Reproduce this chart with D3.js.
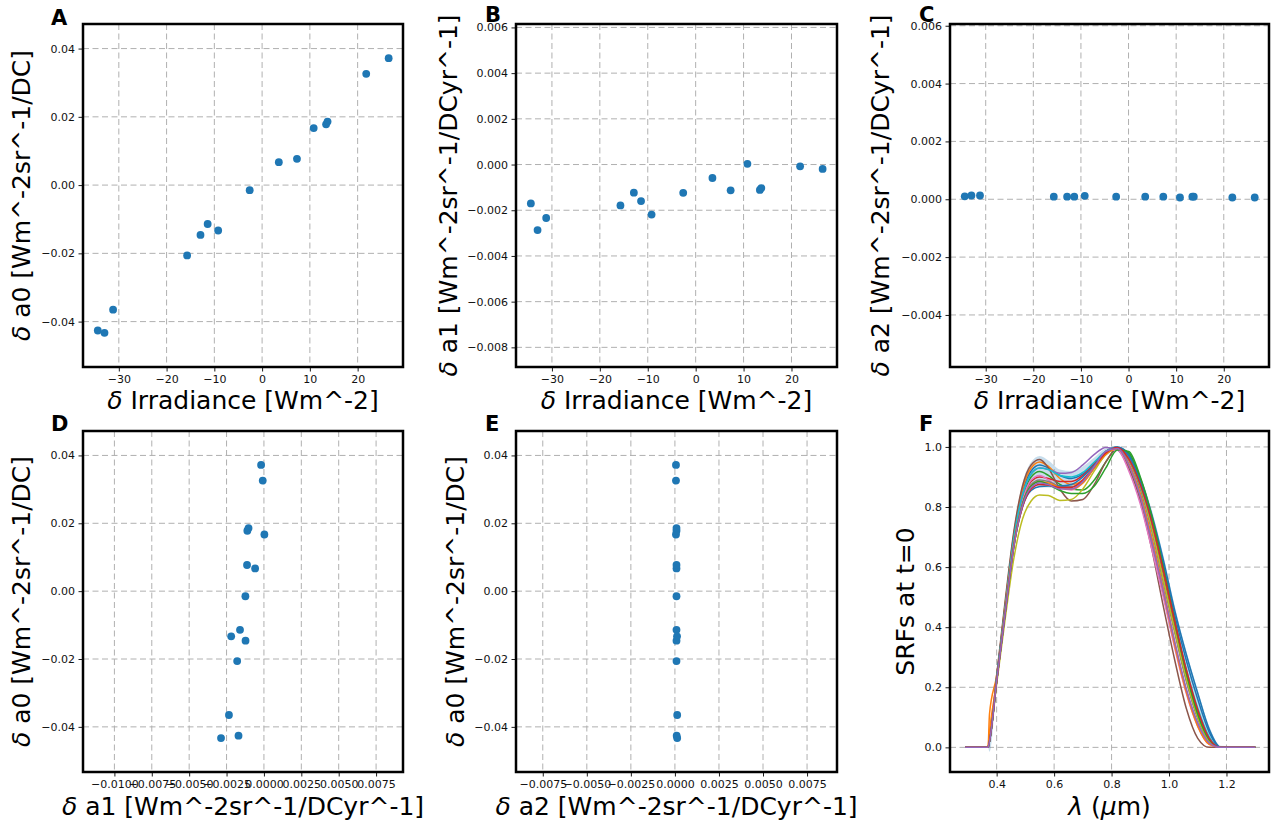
<!DOCTYPE html>
<html>
<head>
<meta charset="utf-8">
<script src="https://cdn.jsdelivr.net/npm/d3@7"></script>
<style>
body { margin: 0; background: #fff; }
svg { font-family: "DejaVu Sans", sans-serif; }
.grid line { stroke: #b0b0b0; stroke-width: 1; stroke-dasharray: 6,3.5; }
.tick text { font-family: "DejaVu Sans", sans-serif; font-size: 11px; fill: #111; }
.tick line { stroke: #000; stroke-width: 0.9; }
</style>
</head>
<body>
<svg width="1276" height="825"></svg>
<script>
// per-sensor deltas (15 sensors)
var irradiance = [-34.4, -33.0, -31.2, -15.7, -12.9, -11.4, -9.2, -2.6, 3.5, 7.3, 10.8, 13.4, 13.7, 21.8, 26.5];
var a0 = [-0.0426, -0.0433, -0.0365, -0.0206, -0.0146, -0.0114, -0.0133, -0.0015, 0.0067, 0.0077, 0.0167, 0.0178, 0.0186, 0.0326, 0.0372];
var a1 = [-0.00170, -0.00287, -0.00234, -0.00179, -0.00123, -0.00160, -0.00219, -0.00124, -0.00059, -0.00113, 0.00003, -0.00111, -0.00103, -0.00008, -0.00019];
var a2 = [0.00010, 0.00013, 0.00013, 0.00009, 0.00009, 0.00009, 0.00012, 0.00009, 0.00009, 0.00009, 0.00006, 0.00009, 0.00009, 0.00006, 0.00006];

// tick labels
var irrTicks = [-30, -20, -10, 0, 10, 20];
var a0Ticks = [-0.04, -0.02, 0, 0.02, 0.04];
var a1Ticks = [-0.008, -0.006, -0.004, -0.002, 0, 0.002, 0.004, 0.006];
var a2Ticks = [-0.004, -0.002, 0, 0.002, 0.004, 0.006];
var a1xTicks = [-0.01, -0.0075, -0.005, -0.0025, 0, 0.0025, 0.005, 0.0075];
var a2xTicks = [-0.0075, -0.005, -0.0025, 0, 0.0025, 0.005, 0.0075];
var lamTicks = [0.4, 0.6, 0.8, 1.0, 1.2];
var srfTicks = [0, 0.2, 0.4, 0.6, 0.8, 1.0];

// SRFs at t=0, sampled at these wavelengths (um)
var wavelength = [0.29, 0.37, 0.375, 0.40, 0.43, 0.46, 0.49, 0.52, 0.55, 0.58, 0.62, 0.66, 0.70, 0.74, 0.78, 0.82, 0.86, 0.90, 0.94, 0.98, 1.02, 1.06, 1.10, 1.14, 1.18, 1.30];
var srfs = [
  [0, 0, 0.02, 0.23, 0.47, 0.70, 0.85, 0.92, 0.94, 0.93, 0.905, 0.895, 0.91, 0.945, 0.985, 1.0, 0.975, 0.895, 0.775, 0.625, 0.455, 0.31, 0.18, 0.06, 0, 0],
  [0, 0, 0.11, 0.24, 0.48, 0.71, 0.86, 0.93, 0.95, 0.935, 0.895, 0.875, 0.89, 0.935, 0.98, 0.995, 0.945, 0.845, 0.70, 0.53, 0.35, 0.19, 0.075, 0.012, 0, 0],
  [0, 0, 0.02, 0.22, 0.46, 0.69, 0.83, 0.90, 0.918, 0.905, 0.875, 0.86, 0.857, 0.89, 0.95, 0.995, 0.98, 0.89, 0.75, 0.58, 0.40, 0.235, 0.10, 0.02, 0, 0],
  [0, 0, 0.02, 0.22, 0.46, 0.68, 0.82, 0.885, 0.90, 0.895, 0.885, 0.885, 0.905, 0.945, 0.985, 0.998, 0.96, 0.87, 0.74, 0.58, 0.41, 0.25, 0.12, 0.03, 0, 0],
  [0, 0, 0.02, 0.23, 0.47, 0.70, 0.84, 0.91, 0.93, 0.925, 0.912, 0.915, 0.94, 0.975, 0.998, 0.99, 0.93, 0.83, 0.68, 0.51, 0.34, 0.19, 0.08, 0.015, 0, 0],
  [0, 0, 0.02, 0.24, 0.49, 0.72, 0.87, 0.94, 0.958, 0.93, 0.86, 0.82, 0.825, 0.875, 0.95, 0.995, 0.93, 0.82, 0.66, 0.47, 0.29, 0.13, 0.03, 0, 0, 0],
  [0, 0, 0.02, 0.22, 0.46, 0.68, 0.82, 0.89, 0.905, 0.89, 0.865, 0.857, 0.88, 0.93, 0.985, 0.99, 0.92, 0.81, 0.66, 0.50, 0.33, 0.18, 0.07, 0.01, 0, 0],
  [0, 0, 0.02, 0.22, 0.46, 0.68, 0.81, 0.875, 0.89, 0.885, 0.87, 0.868, 0.885, 0.93, 0.975, 0.997, 0.955, 0.86, 0.72, 0.55, 0.38, 0.22, 0.095, 0.02, 0, 0],
  [0, 0, 0.02, 0.21, 0.43, 0.63, 0.76, 0.82, 0.84, 0.838, 0.822, 0.825, 0.86, 0.92, 0.975, 0.998, 0.96, 0.87, 0.73, 0.56, 0.39, 0.23, 0.10, 0.02, 0, 0],
  [0, 0, 0.02, 0.23, 0.47, 0.70, 0.84, 0.91, 0.93, 0.925, 0.905, 0.90, 0.915, 0.95, 0.985, 0.999, 0.965, 0.875, 0.75, 0.59, 0.42, 0.26, 0.13, 0.035, 0, 0],
  [0, 0, 0.02, 0.22, 0.45, 0.67, 0.80, 0.855, 0.868, 0.87, 0.87, 0.875, 0.90, 0.94, 0.98, 0.999, 0.97, 0.885, 0.765, 0.61, 0.44, 0.29, 0.16, 0.05, 0, 0],
  [0, 0, 0.05, 0.22, 0.46, 0.68, 0.81, 0.87, 0.885, 0.88, 0.865, 0.86, 0.88, 0.93, 0.975, 0.995, 0.94, 0.84, 0.69, 0.52, 0.34, 0.185, 0.07, 0.01, 0, 0],
  [0, 0, 0.02, 0.22, 0.45, 0.67, 0.81, 0.87, 0.885, 0.875, 0.855, 0.845, 0.845, 0.87, 0.93, 0.99, 0.985, 0.90, 0.77, 0.60, 0.42, 0.25, 0.11, 0.025, 0, 0],
  [0, 0, 0.02, 0.22, 0.45, 0.67, 0.80, 0.86, 0.875, 0.873, 0.865, 0.865, 0.89, 0.935, 0.98, 0.998, 0.96, 0.875, 0.75, 0.59, 0.42, 0.26, 0.125, 0.03, 0, 0],
  [0, 0, 0.02, 0.22, 0.45, 0.67, 0.805, 0.865, 0.88, 0.875, 0.86, 0.86, 0.885, 0.935, 0.985, 0.995, 0.94, 0.835, 0.685, 0.52, 0.35, 0.195, 0.08, 0.015, 0, 0]
];
var bandUpper = [0, 0, 0.03, 0.25, 0.50, 0.73, 0.88, 0.95, 0.97, 0.955, 0.925, 0.92, 0.935, 0.965, 0.995, 1.0, 0.985, 0.905, 0.79, 0.64, 0.47, 0.32, 0.19, 0.07, 0.005, 0];
var bandLower = [0, 0, -0.015, 0.20, 0.44, 0.66, 0.80, 0.855, 0.865, 0.865, 0.86, 0.865, 0.885, 0.925, 0.97, 0.99, 0.95, 0.855, 0.72, 0.56, 0.39, 0.23, 0.10, 0.02, 0, 0];

var tab10 = d3.schemeCategory10;
var svg = d3.select("svg");

function addLabel(g, parts, attrs) {
    var t = g.append("text").attr("font-size", 25).attr("fill", "#000");
    for (var k in attrs) t.attr(k, attrs[k]);
    parts.forEach(function (p) {
        t.append("tspan").attr("font-style", p[1] ? "italic" : "normal").text(p[0]);
    });
    return t;
}

function panel(o) {
    var x = d3.scaleLinear().domain(o.xd).range([o.x0, o.x1]);
    var y = d3.scaleLinear().domain(o.yd).range([o.y1, o.y0]);
    var g = svg.append("g");

    var grid = g.append("g").attr("class", "grid");
    grid.selectAll(".gx").data(o.xt).enter().append("line")
        .attr("x1", function (d) { return x(d); }).attr("x2", function (d) { return x(d); })
        .attr("y1", o.y0).attr("y2", o.y1);
    grid.selectAll(".gy").data(o.yt).enter().append("line")
        .attr("y1", function (d) { return y(d); }).attr("y2", function (d) { return y(d); })
        .attr("x1", o.x0).attr("x2", o.x1);

    o.draw(g, x, y);

    g.append("rect").attr("x", o.x0).attr("y", o.y0)
        .attr("width", o.x1 - o.x0).attr("height", o.y1 - o.y0)
        .attr("fill", "none").attr("stroke", "#000").attr("stroke-width", 2.5);

    var xa = g.append("g").attr("transform", "translate(0," + (o.y1 + 1) + ")")
        .call(d3.axisBottom(x).tickValues(o.xt).tickFormat(d3.format(o.xf)).tickSize(3.5).tickPadding(3.5));
    xa.select(".domain").remove();
    xa.attr("font-family", "DejaVu Sans").attr("font-size", 11);
    var ya = g.append("g").attr("transform", "translate(" + (o.x0 - 1) + ",0)")
        .call(d3.axisLeft(y).tickValues(o.yt).tickFormat(d3.format(o.yf)).tickSize(3.5).tickPadding(3.5));
    ya.select(".domain").remove();
    ya.attr("font-family", "DejaVu Sans").attr("font-size", 11);

    g.append("text").attr("x", o.lx).attr("y", o.ly)
        .attr("font-size", 21).attr("font-weight", "bold").text(o.letter);

    addLabel(g, o.xlabel, { x: (o.x0 + o.x1) / 2, y: o.xly, "text-anchor": "middle" });
    addLabel(g, o.ylabel, { "text-anchor": "middle",
        transform: "translate(" + o.ylx + "," + (o.y0 + o.y1) / 2 + ") rotate(-90)" });
}

function scatter(xs, ys) {
    return function (g, x, y) {
        g.selectAll("circle.pt").data(xs).enter().append("circle")
            .attr("class", "pt")
            .attr("cx", function (d) { return x(d); })
            .attr("cy", function (d, i) { return y(ys[i]); })
            .attr("r", 3.9)
            .attr("fill", tab10[0]);
    };
}

var irrLabel = [["δ", true], [" Irradiance [Wm^-2]", false]];
var a0Label = [["δ", true], [" a0 [Wm^-2sr^-1/DC]", false]];
var a1Label = [["δ", true], [" a1 [Wm^-2sr^-1/DCyr^-1]", false]];
var a2Label = [["δ", true], [" a2 [Wm^-2sr^-1/DCyr^-1]", false]];

var top0 = 24, top1 = 367, bot0 = 431, bot1 = 772;
var irrDom = [-37.5, 29.5], a0Dom = [-0.0533, 0.0472];

panel({ x0: 83, x1: 403, y0: top0, y1: top1, xd: irrDom, yd: a0Dom,
    xt: irrTicks, yt: a0Ticks, xf: ".0f", yf: ".2f", letter: "A", lx: 51, ly: 25,
    xlabel: irrLabel, ylabel: a0Label, xly: 409, ylx: 30, draw: scatter(irradiance, a0) });
panel({ x0: 516, x1: 837, y0: top0, y1: top1, xd: irrDom, yd: [-0.00886, 0.00615],
    xt: irrTicks, yt: a1Ticks, xf: ".0f", yf: ".3f", letter: "B", lx: 485, ly: 22,
    xlabel: irrLabel, ylabel: a1Label, xly: 409, ylx: 457, draw: scatter(irradiance, a1) });
panel({ x0: 950, x1: 1269, y0: top0, y1: top1, xd: irrDom, yd: [-0.0058, 0.00606],
    xt: irrTicks, yt: a2Ticks, xf: ".0f", yf: ".3f", letter: "C", lx: 919, ly: 22,
    xlabel: irrLabel, ylabel: a2Label, xly: 409, ylx: 889, draw: scatter(irradiance, a2) });
panel({ x0: 83, x1: 403, y0: bot0, y1: bot1, xd: [-0.0121, 0.0093], yd: a0Dom,
    xt: a1xTicks, yt: a0Ticks, xf: ".4f", yf: ".2f", letter: "D", lx: 51, ly: 431,
    xlabel: a1Label, ylabel: a0Label, xly: 815, ylx: 30, draw: scatter(a1, a0) });
panel({ x0: 516, x1: 837, y0: bot0, y1: bot1, xd: [-0.00902, 0.0092], yd: a0Dom,
    xt: a2xTicks, yt: a0Ticks, xf: ".4f", yf: ".2f", letter: "E", lx: 485, ly: 431,
    xlabel: a2Label, ylabel: a0Label, xly: 815, ylx: 464, draw: scatter(a2, a0) });
panel({ x0: 950, x1: 1269, y0: bot0, y1: bot1, xd: [0.2376, 1.348], yd: [-0.082, 1.053],
    xt: lamTicks, yt: srfTicks, xf: ".1f", yf: ".1f", letter: "F", lx: 919, ly: 431,
    xlabel: [["λ", true], [" (", false], ["μ", true], ["m)", false]],
    ylabel: [["SRFs at t=0", false]], xly: 815, ylx: 914,
    draw: function (g, x, y) {
        var area = d3.area().curve(d3.curveMonotoneX)
            .x(function (d, i) { return x(wavelength[i]); })
            .y0(function (d, i) { return y(bandLower[i]); })
            .y1(function (d) { return y(d); });
        g.append("path").datum(bandUpper).attr("d", area)
            .attr("fill", tab10[0]).attr("fill-opacity", 0.25);
        var line = d3.line().curve(d3.curveMonotoneX)
            .x(function (d, i) { return x(wavelength[i]); })
            .y(function (d) { return y(d); });
        g.selectAll("path.srf").data(srfs).enter().append("path")
            .attr("class", "srf")
            .attr("d", line)
            .attr("fill", "none")
            .attr("stroke", function (d, i) { return tab10[i % 10]; })
            .attr("stroke-width", 1.5);
    } });
</script>
</body>
</html>
